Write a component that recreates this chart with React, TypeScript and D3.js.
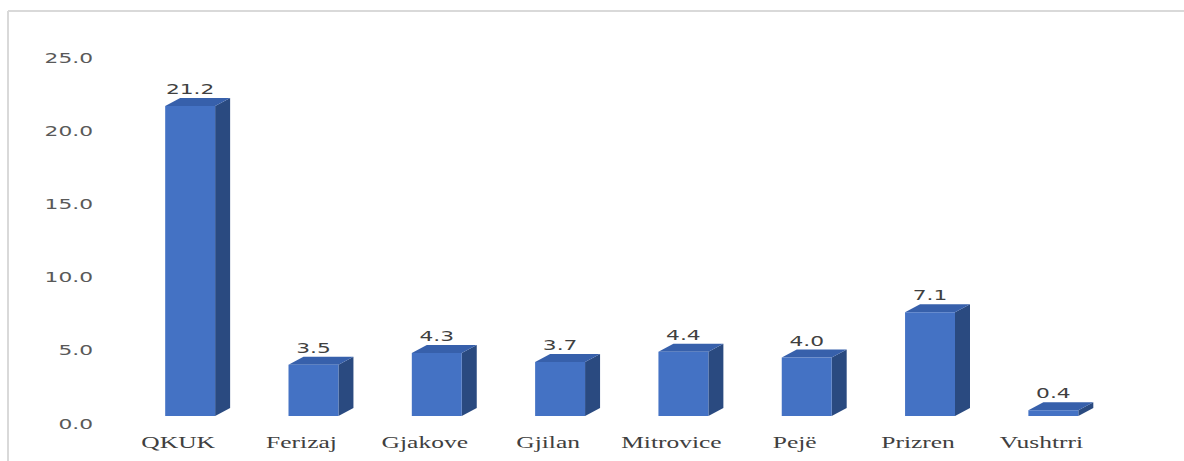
import React from "react";
import * as d3 from "d3";

const categories = ["QKUK", "Ferizaj", "Gjakove", "Gjilan", "Mitrovice", "Pejë", "Prizren", "Vushtrri"];
const values = [21.2, 3.5, 4.3, 3.7, 4.4, 4.0, 7.1, 0.4];
const ticks = [0, 5, 10, 15, 20, 25];

const W = 1184;
const H = 461;
const SX = 1.5; // horizontal stretch of the original picture
const DX = 15;
const DY = 8;

export default function App() {
  const x = d3
    .scaleBand<string>()
    .domain(categories)
    .range([128.5, 1115])
    .paddingInner(0.595)
    .paddingOuter(0.2975);
  const y = d3.scaleLinear().domain([0, 21.2]).range([416, 106]);
  const bw = x.bandwidth();

  return (
    <svg
      width={W}
      height={H}
      style={{ position: "absolute", left: 0, top: 0, background: "#fff" }}
    >
      <rect x={0} y={0} width={W} height={H} fill="#fff" />
      <line x1={8} y1={11} x2={W} y2={11} stroke="#d9d9d9" strokeWidth={2} />
      <line x1={8} y1={11} x2={8} y2={H} stroke="#d9d9d9" strokeWidth={2} />

      {ticks.map((t) => (
        <text
          key={t}
          transform={`translate(93,${y(t) + 12.5}) scale(${SX},1)`}
          textAnchor="end"
          fontFamily="DejaVu Sans"
          fontSize={14.5}
          fill="#595959"
        >
          {t.toFixed(1)}
        </text>
      ))}

      {categories.map((c, i) => {
        const x0 = x(c)!;
        const x1 = x0 + bw;
        const yt = y(values[i]);
        const yb = y(0);
        const front = `M${x0},${yb}L${x0},${yt}L${x1},${yt}L${x1},${yb}Z`;
        const side = `M${x1},${yb}L${x1},${yt}L${x1 + DX},${yt - DY}L${x1 + DX},${yb - DY}Z`;
        const top = `M${x0},${yt}L${x1},${yt}L${x1 + DX},${yt - DY}L${x0 + DX},${yt - DY}Z`;
        const cx = x0 + bw / 2;
        return (
          <g key={c}>
            <path d={side} fill="#2a4a80" />
            <path d={top} fill="#3760ab" />
            <path d={front} fill="#4472c4" />
            <text
              transform={`translate(${cx},${yt - 12}) scale(${SX},1)`}
              textAnchor="middle"
              fontFamily="DejaVu Sans"
              fontSize={14.5}
              fill="#404040"
            >
              {values[i].toFixed(1)}
            </text>
            <text
              transform={`translate(${cx - 12},448) scale(${SX},1)`}
              textAnchor="middle"
              fontFamily="Liberation Serif"
              fontSize={17}
              fill="#404040"
            >
              {c}
            </text>
          </g>
        );
      })}
    </svg>
  );
}
